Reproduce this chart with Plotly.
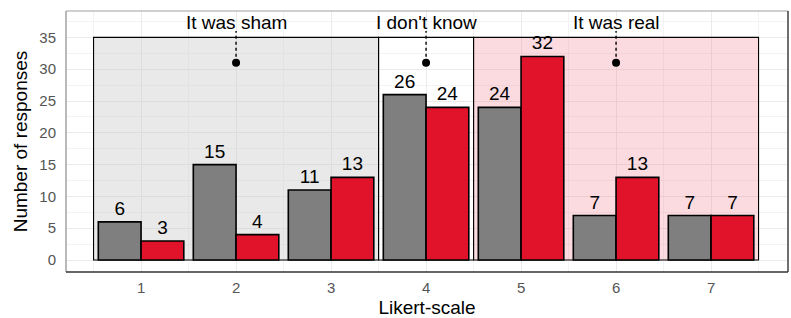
import plotly.graph_objects as go

likert = [1, 2, 3, 4, 5, 6, 7]
group_grey = [6, 15, 11, 26, 24, 7, 7]
group_red = [3, 4, 13, 24, 32, 13, 7]

region_labels = ["It was sham", "I don't know", "It was real"]
region_start = [0.5, 3.5, 4.5]
region_end = [3.5, 4.5, 7.5]
region_center = [2, 4, 6]
region_top = 35
region_point = 31
region_text_y = 37.3
region_fill = ["rgba(200,200,200,0.4)", "rgba(255,255,255,0.0)", "rgba(240,110,130,0.25)"]

FONT = "Liberation Sans, Arial, sans-serif"
GREY = "#7F7F7F"
RED = "#E0132A"

fig = go.Figure()

for vals, col, name in [(group_grey, GREY, "Grey group"), (group_red, RED, "Red group")]:
    fig.add_trace(go.Bar(
        x=likert, y=vals, name=name,
        marker=dict(color=col, line=dict(color="black", width=1.6)),
        text=[str(v) for v in vals], textposition="outside",
        textfont=dict(family=FONT, size=19, color="black"),
        cliponaxis=False,
    ))

# region rectangles
for s, e, f in zip(region_start, region_end, region_fill):
    fig.add_shape(type="rect", xref="x", yref="y", x0=s, x1=e, y0=0, y1=region_top,
                  fillcolor=f, line=dict(color="black", width=1.1), layer="between")

# dotted leaders, points and labels
for lab, cx in zip(region_labels, region_center):
    fig.add_trace(go.Scatter(x=[cx, cx], y=[region_point, 36.0], mode="lines",
                             line=dict(color="black", width=1.4, dash="dot"),
                             hoverinfo="skip", showlegend=False))
    fig.add_trace(go.Scatter(x=[cx], y=[region_point], mode="markers",
                             marker=dict(color="black", size=8),
                             hoverinfo="skip", showlegend=False))
    fig.add_annotation(x=cx, y=region_text_y, text=lab, showarrow=False,
                       xref="x", yref="y", yanchor="middle",
                       font=dict(family=FONT, size=19, color="black"))

fig.update_layout(
    width=791, height=318,
    margin=dict(l=66, r=3, t=11, b=46, autoexpand=False),
    paper_bgcolor="white", plot_bgcolor="white",
    barmode="group", bargap=0.1, bargroupgap=0,
    showlegend=False,
    font=dict(family=FONT),
)

fig.update_xaxes(
    automargin=False,
    range=[0.21, 7.81], tickvals=likert, ticktext=[str(v) for v in likert],
    showgrid=True, gridcolor="#EBEBEB", gridwidth=1,
    minor=dict(dtick=0.5, tick0=0.5, showgrid=True, gridcolor="#F3F3F3", gridwidth=0.6),
    zeroline=False, showline=False, ticks="",
    tickfont=dict(family=FONT, size=15, color="#555555"),
    ticklabelstandoff=5,
    title=dict(text="Likert-scale", font=dict(family=FONT, size=19, color="black"), standoff=6),
)
fig.update_yaxes(
    automargin=False,
    range=[-1.88, 39.15], tickvals=[0, 5, 10, 15, 20, 25, 30, 35],
    showgrid=True, gridcolor="#EBEBEB", gridwidth=1,
    minor=dict(dtick=2.5, tick0=0, showgrid=True, gridcolor="#F3F3F3", gridwidth=0.6),
    zeroline=False, showline=False, ticks="",
    tickfont=dict(family=FONT, size=15, color="#555555"),
    ticklabelstandoff=9,
    title=dict(text="Number of responses", font=dict(family=FONT, size=19, color="black"), standoff=6),
)

# panel border
fig.add_shape(type="line", xref="paper", yref="paper", x0=0, x1=0, y0=0, y1=1, line=dict(color="#8A8A8A", width=1.2))
fig.add_shape(type="line", xref="paper", yref="paper", x0=0, x1=1, y0=1, y1=1, line=dict(color="#A0A0A0", width=1.2))
fig.add_shape(type="line", xref="paper", yref="paper", x0=1, x1=1, y0=0, y1=1, line=dict(color="#333333", width=1.4))
fig.add_shape(type="line", xref="paper", yref="paper", x0=0, x1=1, y0=0, y1=0, line=dict(color="#333333", width=1.4))

fig.write_html("out.html", config={"displayModeBar": False},
               post_script="document.body.style.margin='0';document.body.style.padding='0';document.body.style.overflow='hidden';")
